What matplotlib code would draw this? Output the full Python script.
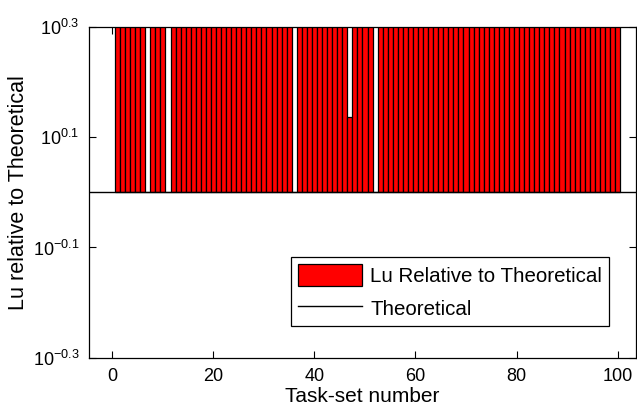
import numpy as np
import matplotlib
matplotlib.use('Agg')
import matplotlib.pyplot as plt

# =======================
# Data
# =======================
task_sets = np.arange(1, 101)
lu_relative = np.full(100, 2.0)      # most ratios run off the top of the axis
lu_relative[[6, 10, 35, 51]] = 1.0   # task-sets 7, 11, 36, 52 sit on the theoretical value
lu_relative[46] = 1.37               # task-set 47
theoretical = 1.0

ytick_vals = [-0.3, -0.1, 0.1, 0.3]
ytick_labels = [r'$10^{%g}$' % v for v in ytick_vals]
xtick_vals = [0, 20, 40, 60, 80, 100]

# =======================
# Style
# =======================
plt.rcParams['font.family'] = ['Liberation Sans', 'DejaVu Sans']
plt.rcParams['mathtext.fontset'] = 'custom'
plt.rcParams['mathtext.rm'] = 'Liberation Sans'
plt.rcParams['mathtext.it'] = 'Liberation Sans:italic'
plt.rcParams['mathtext.bf'] = 'Liberation Sans:bold'

fig = plt.figure(figsize=(6.37, 4.19), dpi=100)
ax = fig.add_axes([0.140, 0.146, 0.858, 0.790])
ax.set_axisbelow(True)

ax.set_yscale('log')
bars = ax.bar(task_sets, lu_relative - theoretical, bottom=theoretical, width=1.0,
              color='red', edgecolor='black', linewidth=0.9,
              label='Lu Relative to Theoretical')
line = ax.axhline(theoretical, color='black', linewidth=1.0, label='Theoretical')

ax.set_xlim(-4.6, 103.6)
ax.set_ylim(10 ** -0.3, 10 ** 0.3)
ax.set_xticks(xtick_vals)
ax.set_yticks([10 ** v for v in ytick_vals])
ax.set_yticklabels(ytick_labels)
ax.yaxis.set_minor_locator(matplotlib.ticker.NullLocator())

ax.tick_params(direction='in', top=True, right=True, length=5, width=0.8,
               labelsize=13, pad=7)
for sp in ax.spines.values():
    sp.set_linewidth(0.9)

ax.set_xlabel('Task-set number', fontsize=15, labelpad=2)
ax.set_ylabel('Lu relative to Theoretical', fontsize=15.5, labelpad=3)

leg = ax.legend([bars, line], ['Lu Relative to Theoretical', 'Theoretical'],
                loc='upper left', bbox_to_anchor=(291 / 637, 1 - 257 / 419),
                bbox_transform=fig.transFigure, borderaxespad=0,
                fontsize=14.8, fancybox=False, edgecolor='black', framealpha=1,
                handlelength=3.1, handleheight=1.25, borderpad=0.35,
                labelspacing=0.55, handletextpad=0.4)
leg.get_frame().set_linewidth(0.9)

plt.savefig('out.png', dpi=100)
plt.close()
